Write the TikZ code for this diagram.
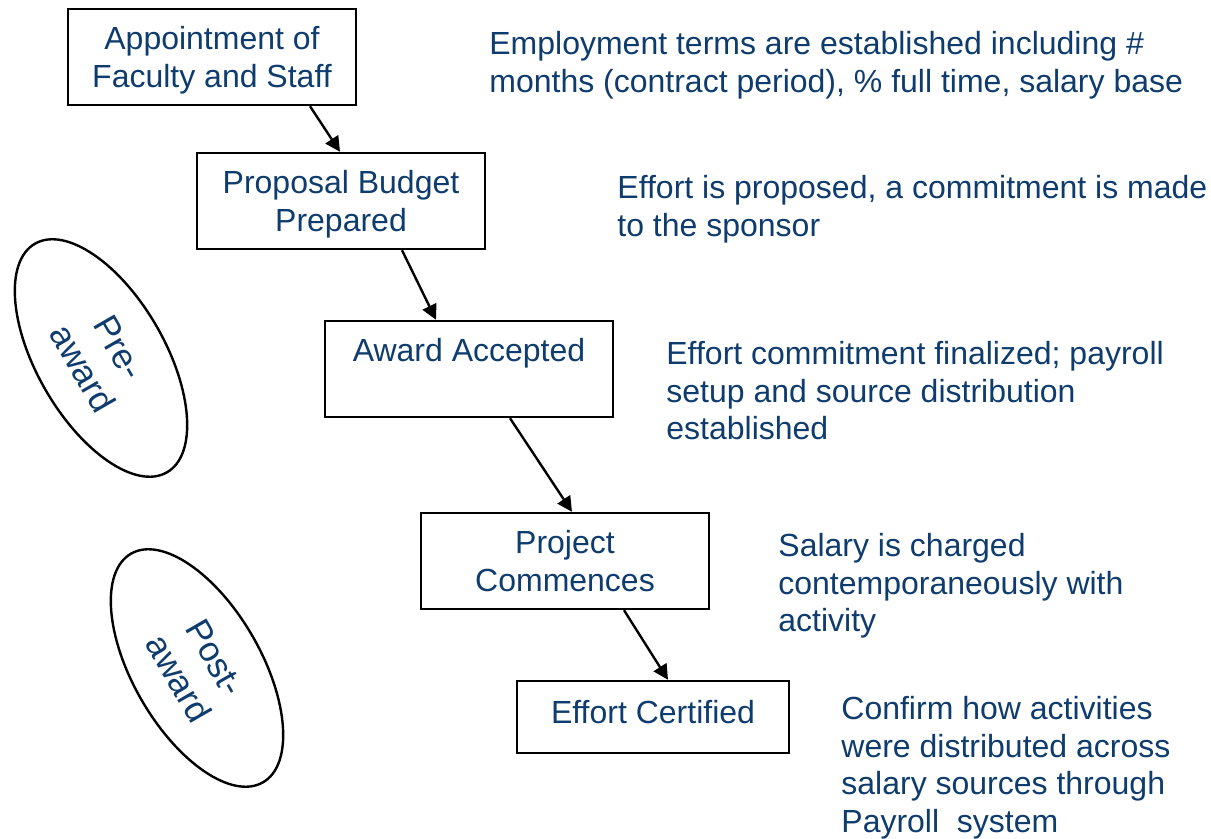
\documentclass[tikz,border=0pt]{standalone}
\usepackage{fontspec}
\setmainfont{Liberation Sans}
\usetikzlibrary{arrows.meta,shapes.geometric}
\definecolor{navy}{RGB}{15,60,110}

\begin{document}
\begin{tikzpicture}[x=0.5pt,y=-0.5pt,
  every node/.style={text=navy,font=\fontsize{16}{18.8}\selectfont},
  stepbox/.style={draw=black,line width=1.2pt,minimum width=144pt,minimum height=48pt,align=center,text depth=0pt},
  phase/.style={draw=black,ellipse,line width=1.2pt,minimum width=132pt,minimum height=64pt,rotate=-60,align=center,inner sep=0pt,
    font=\fontsize{17.5}{21}\selectfont,text depth=0pt},
  note/.style={anchor=north west,align=left,inner sep=0pt},
  flow/.style={-{Triangle[length=7.5pt,width=7.5pt]},line width=1.2pt}]

  \useasboundingbox (0,0) rectangle (1211,839);

  % steps
  \node[stepbox] (appoint) at (212,57) {Appointment of\\Faculty and Staff};
  \node[stepbox] (budget) at (341,201) {Proposal Budget\\Prepared};
  \node[stepbox] (award) at (469,369) {Award Accepted\\\mbox{}};
  \node[stepbox] (project) at (565,561) {Project\\Commences};
  \node[stepbox,minimum width=136pt,minimum height=36pt,text depth=5pt] (certify) at (653,717) {Effort Certified};

  % phases
  \node[phase] (pre) at (101,358) {Pre-\\award};
  \node[phase] (post) at (197,668) {Post-\\award};

  % notes
  \node[note] (n1) at (489,31) {Employment terms are established including \#\\months (contract period), \% full time, salary base};
  \node[note] (n2) at (617,175) {Effort is proposed, a commitment is made\\to the sponsor};
  \node[note] (n3) at (666,341) {Effort commitment finalized; payroll\\setup and source distribution\\established};
  \node[note] (n4) at (778,533) {Salary is charged\\contemporaneously with\\activity};
  \node[note] (n5) at (841,696) {Confirm how activities\\were distributed across\\salary sources through\\Payroll\ \ system};

  % flow
  \draw[flow] ([xshift=49pt]appoint.south) -- ([xshift=-0.5pt]budget.north);
  \draw[flow] ([xshift=30.5pt]budget.south) -- ([xshift=-16.5pt]award.north);
  \draw[flow] ([xshift=20.5pt]award.south) -- ([xshift=3.5pt]project.north);
  \draw[flow] ([xshift=29.5pt]project.south) -- ([xshift=7.5pt]certify.north);

\end{tikzpicture}
\end{document}
